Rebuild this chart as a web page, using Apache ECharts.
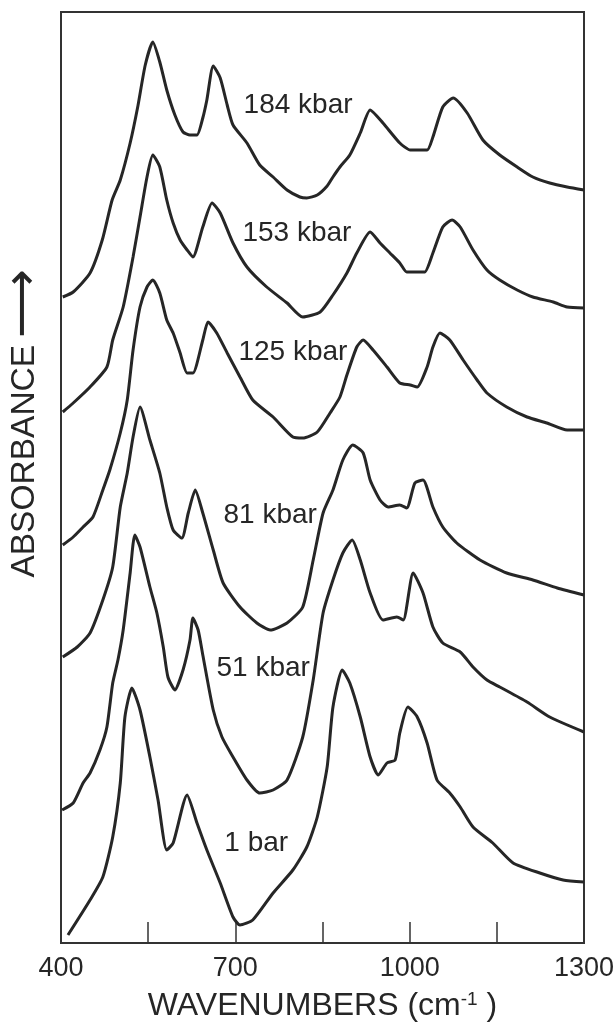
<!DOCTYPE html>
<html><head><meta charset="utf-8">
<script src="https://cdn.jsdelivr.net/npm/echarts@6/dist/echarts.min.js"></script>
<style>html,body{margin:0;padding:0;background:#fff}#c{width:614px;height:1029px}</style>
</head><body><div id="c"></div>
<script>
// Wavenumbers (cm-1) and absorbance (arbitrary units, curves offset vertically)
const wn184 = [403,421,450,471,488,502,519,532,545,558,570,582,596,610,622,634,644,651,662,674,686,696,720,742,765,789,811,823,841,858,868,880,897,915,932,954,983,1001,1030,1040,1057,1075,1099,1126,1155,1185,1212,1241,1271,1300];
const ab184 = [646,651,670,703,743,763,800,836,878,901,881,853,828,811,808,808,825,843,877,865,838,818,800,778,766,753,746,745,748,757,766,776,788,810,833,820,800,793,793,806,836,845,830,803,788,776,766,760,756,753];
const wn153 = [403,421,450,479,489,507,524,536,548,558,570,582,593,605,617,627,644,660,674,696,720,754,789,816,846,868,892,909,932,949,966,983,995,1013,1026,1040,1057,1073,1087,1109,1133,1155,1185,1212,1247,1271,1300];
const ab153 = [531,540,556,576,603,636,686,726,766,788,776,743,720,703,693,686,716,740,730,700,676,656,640,626,631,648,670,690,711,700,690,680,671,671,671,690,716,723,716,693,673,663,653,646,641,636,635];
const wn125 = [403,421,438,455,472,484,502,514,524,536,548,558,570,582,593,605,617,627,644,653,668,686,708,730,765,799,816,841,863,880,892,909,920,937,961,983,1001,1013,1030,1040,1052,1069,1092,1116,1133,1167,1202,1236,1271,1300];
const ab125 = [398,406,416,426,453,473,510,543,593,636,656,663,650,623,610,590,570,570,603,621,610,590,566,543,526,506,505,511,530,546,568,596,603,593,576,560,558,556,576,596,610,603,583,563,550,536,526,520,513,513];
const wn81 = [403,428,450,472,489,502,514,524,536,553,570,582,593,608,619,631,644,662,679,708,737,760,789,816,834,851,868,885,902,920,932,949,963,983,995,1009,1023,1040,1057,1081,1121,1167,1212,1254,1300];
const ab81 = [286,296,310,343,376,436,470,506,536,503,470,436,413,405,430,453,430,393,360,336,320,313,320,336,383,430,453,483,498,490,463,443,436,438,435,460,463,436,416,400,383,370,363,355,348];
const wn51 = [402,421,438,450,467,479,489,498,507,519,527,536,553,565,576,584,596,610,622,627,636,644,662,677,696,720,742,765,789,816,834,851,868,885,901,915,932,954,978,989,1006,1023,1040,1057,1087,1109,1133,1155,1202,1241,1300];
const ab51 = [133,140,160,170,193,216,260,283,313,370,408,396,356,330,296,266,253,273,303,325,313,288,233,206,186,163,150,153,163,206,263,330,363,390,403,383,350,323,326,323,370,350,316,300,291,276,263,256,241,226,211];
const wn1 = [412,450,472,489,502,510,522,536,553,567,582,593,617,634,651,674,696,708,730,765,799,823,841,858,868,884,897,915,932,946,961,975,983,997,1013,1030,1047,1069,1087,1109,1143,1178,1224,1264,1300];
const ab1 = [8,43,66,106,160,226,255,233,186,143,93,100,148,120,93,60,26,18,23,50,73,96,126,176,236,273,260,226,186,168,180,183,210,236,226,200,163,150,136,116,100,80,70,63,61];

const seriesNames = ['184 kbar','153 kbar','125 kbar','81 kbar','51 kbar','1 bar'];
const labelWn = [808,806,799,760,748,736];
const labelAb = [838,710,591,428,275,100];

const xTicks = [550,700,850,1000,1150];
const xLabels = [400,700,1000,1300];

const pairs = (xs, ys) => xs.map((x, i) => [x, ys[i]]);
const curves = [[wn184,ab184],[wn153,ab153],[wn125,ab125],[wn81,ab81],[wn51,ab51],[wn1,ab1]];
const ink = '#262626';

const series = curves.map((c, i) => ({
  name: seriesNames[i], type: 'line', data: pairs(c[0], c[1]),
  showSymbol: false, symbol: 'none', smooth: 0.2,
  lineStyle: {color: ink, width: 3}, silent: true, animation: false
}));
series.push({
  type: 'scatter', symbolSize: 0, silent: true, animation: false,
  itemStyle: {opacity: 1, color: ink},
  data: seriesNames.map((n, i) => [labelWn[i], labelAb[i], n]),
  label: {show: true, position: 'inside', formatter: p => p.data[2], opacity: 1,
    fontFamily: 'Liberation Sans', fontSize: 28, color: ink}
});

const chart = echarts.init(document.getElementById('c'), null, {renderer: 'canvas'});
chart.setOption({
  backgroundColor: '#fff',
  animation: false,
  grid: {left: 61, right: 30, top: 12, bottom: 86, containLabel: false, outerBoundsMode: 'none',
    show: true, borderColor: '#333', borderWidth: 2},
  xAxis: {
    type: 'value', min: 400, max: 1300,
    name: '{t|WAVENUMBERS (cm}{s|-1}{t| )}', nameLocation: 'middle', nameGap: 47,
    nameTextStyle: {rich: {
      t: {fontFamily: 'Liberation Sans', fontSize: 32, color: ink},
      s: {fontFamily: 'Liberation Sans', fontSize: 19, color: ink, verticalAlign: 'top', padding: [0,0,14,0]}
    }},
    axisLine: {show: true, lineStyle: {color: '#333', width: 2}},
    axisTick: {show: true, inside: true, length: 21, customValues: xTicks, lineStyle: {color: '#333', width: 1.5}},
    axisLabel: {show: true, customValues: xLabels, margin: 12, formatter: v => String(v),
      fontFamily: 'Liberation Sans', fontSize: 27, color: ink},
    splitLine: {show: false}
  },
  yAxis: {
    type: 'value', min: 0, max: 931,
    name: '{t|ABSORBANCE}  {a|⟶}', nameLocation: 'middle', nameRotate: 90, nameGap: 19,
    nameTextStyle: {padding: [0,0,0,108], rich: {
      t: {fontFamily: 'Liberation Sans', fontSize: 33.5, lineHeight: 34, color: ink},
      a: {fontFamily: 'DejaVu Sans', fontSize: 48, lineHeight: 34, color: ink}
    }},
    axisLine: {show: false}, axisTick: {show: false}, axisLabel: {show: false}, splitLine: {show: false}
  },
  series: series
});
</script></body></html>
